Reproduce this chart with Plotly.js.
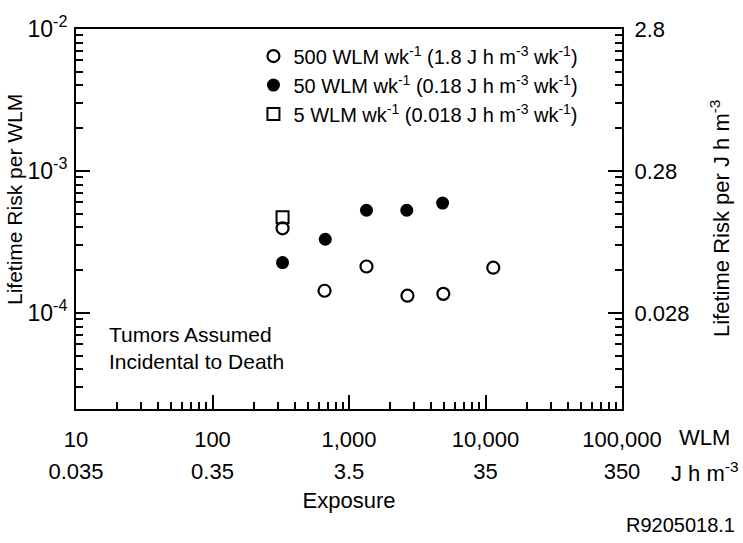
<!DOCTYPE html>
<html>
<head>
<meta charset="utf-8">
<script src="https://cdn.plot.ly/plotly-3.0.1.min.js"></script>
<style>html,body{margin:0;padding:0;background:#fff;}#chart{width:743px;height:543px;}</style>
</head>
<body>
<div id="chart"></div>
<script>
// Exposure (WLM) and lifetime risk per WLM
const exp500 = [326, 662, 1343, 2680, 4910, 11400];
const risk500 = [3.94e-4, 1.43e-4, 2.12e-4, 1.32e-4, 1.36e-4, 2.08e-4];
const exp50 = [326, 670, 1343, 2650, 4850];
const risk50 = [2.26e-4, 3.30e-4, 5.28e-4, 5.28e-4, 5.93e-4];
const exp5 = [326];
const risk5 = [4.72e-4];

const seriesNames = [
  '500 WLM wk<sup>-1</sup> (1.8 J h m<sup>-3</sup> wk<sup>-1</sup>)',
  '50 WLM wk<sup>-1</sup> (0.18 J h m<sup>-3</sup> wk<sup>-1</sup>)',
  '5 WLM wk<sup>-1</sup> (0.018 J h m<sup>-3</sup> wk<sup>-1</sup>)'
];

const xTickVals = [10, 100, 1000, 10000, 100000];
const xTickWLM = ['10', '100', '1,000', '10,000', '100,000'];
const xTickJ = ['0.035', '0.35', '3.5', '35', '350'];
const yTickVals = [1e-4, 1e-3, 1e-2];
const yTickLeft = ['10<sup>-4</sup>', '10<sup>-3</sup>', '10<sup>-2</sup>'];
const yTickRight = ['0.028', '0.28', '2.8'];

const FONT = '"Liberation Sans", Arial, Helvetica, sans-serif';
const black = '#000000';

const traces = [
  {x: exp500, y: risk500, name: seriesNames[0], type: 'scatter', mode: 'markers',
   marker: {symbol: 'circle-open', size: 12, color: black, line: {width: 2.2, color: black}}},
  {x: exp50, y: risk50, name: seriesNames[1], type: 'scatter', mode: 'markers',
   marker: {symbol: 'circle', size: 13, color: black}},
  {x: exp5, y: risk5, name: seriesNames[2], type: 'scatter', mode: 'markers',
   marker: {symbol: 'square-open', size: 12, color: black, line: {width: 2, color: black}}},
  {x: [], y: [], xaxis: 'x2', yaxis: 'y', showlegend: false, hoverinfo: 'skip'},
  {x: [], y: [], xaxis: 'x', yaxis: 'y2', showlegend: false, hoverinfo: 'skip'}
];

const yRange = [Math.log10(2.1e-5), -2];
const xRange = [1, 5];
const axCommon = {showgrid: false, zeroline: false, color: black, linecolor: black, tickcolor: black};
const minorCfg = {ticks: 'inside', ticklen: 7, tickwidth: 2, tickcolor: black, dtick: 'D1', showgrid: false};

const layout = {
  width: 743, height: 543,
  margin: {l: 76, r: 121, t: 29, b: 134},
  paper_bgcolor: '#fff', plot_bgcolor: '#fff',
  font: {family: FONT, size: 22, color: black},
  showlegend: true,
  legend: {x: 0.325, y: 0.98, xanchor: 'left', yanchor: 'top', bgcolor: 'rgba(0,0,0,0)',
           font: {size: 20, family: FONT}, itemwidth: 30, tracegroupgap: 0},
  xaxis: Object.assign({}, axCommon, {
    type: 'log', range: xRange, tickmode: 'linear', tick0: 0, dtick: 1,
    labelalias: {'10': xTickWLM[0], '100': xTickWLM[1], '1000': xTickWLM[2], '10000': xTickWLM[3], '100000': xTickWLM[4]},
    ticks: 'inside', ticklen: 14, tickwidth: 2, showline: true, linewidth: 2, mirror: true,
    ticklabelstandoff: 10, tickfont: {size: 22}, exponentformat: 'none', separatethousands: true,
    minor: minorCfg
  }),
  xaxis2: Object.assign({}, axCommon, {
    type: 'log', range: xRange, overlaying: 'x', side: 'bottom', anchor: 'y',
    tickmode: 'array', tickvals: xTickVals, ticktext: xTickJ, ticks: '', showline: false,
    ticklabelstandoff: 47, tickfont: {size: 22},
    title: {text: 'Exposure', font: {size: 22}, standoff: 9}
  }),
  // left axis: line, major + minor ticks, labels renamed through labelalias
  yaxis: Object.assign({}, axCommon, {
    type: 'log', range: yRange, tickmode: 'linear', tick0: 0, dtick: 1, exponentformat: 'none',
    labelalias: {'0.0001': yTickLeft[0], '0.001': yTickLeft[1], '0.01': yTickLeft[2]},
    ticks: 'inside', ticklen: 14, tickwidth: 2, showline: true, linewidth: 2, mirror: false,
    tickfont: {size: 23}, ticklabelstandoff: 2,
    minor: minorCfg
  }),
  // right axis: same scale expressed per J h m^-3
  yaxis2: Object.assign({}, axCommon, {
    type: 'log', range: yRange, overlaying: 'y', side: 'right', anchor: 'x',
    tickmode: 'linear', tick0: 0, dtick: 1, exponentformat: 'none',
    labelalias: {'0.0001': yTickRight[0], '0.001': yTickRight[1], '0.01': yTickRight[2]},
    ticks: 'inside', ticklen: 14, tickwidth: 2, showline: true, linewidth: 2,
    tickfont: {size: 22}, ticklabelstandoff: 6,
    minor: minorCfg
  }),
  annotations: [
    {text: 'Lifetime Risk per WLM', xref: 'paper', yref: 'paper', x: -0.1117, y: 0.55,
     textangle: -90, showarrow: false, font: {size: 21}, xanchor: 'center', yanchor: 'middle'},
    {text: 'Lifetime Risk per J h m<sup>-3</sup>', xref: 'paper', yref: 'paper', x: 1.1795, y: 0.5,
     textangle: -90, showarrow: false, font: {size: 22}, xanchor: 'center', yanchor: 'middle'},
    {text: 'WLM', xref: 'paper', yref: 'paper', x: 1.152, y: -0.074, showarrow: false,
     xanchor: 'center', yanchor: 'middle', font: {size: 22}},
    {text: 'J h m<sup>-3</sup>', xref: 'paper', yref: 'paper', x: 1.152, y: -0.166, showarrow: false,
     xanchor: 'center', yanchor: 'middle', font: {size: 22}},
    {text: 'Tumors Assumed<br>Incidental to Death', xref: 'paper', yref: 'paper', x: 0.0568, y: 0.1605,
     showarrow: false, xanchor: 'left', yanchor: 'middle', align: 'left', font: {size: 21}},
    {text: 'R9205018.1', xref: 'paper', yref: 'paper', x: 1.2106, y: -0.305, showarrow: false,
     xanchor: 'right', yanchor: 'middle', font: {size: 20}}
  ]
};

Plotly.newPlot('chart', traces, layout, {displayModeBar: false, staticPlot: true});
</script>
</body>
</html>
